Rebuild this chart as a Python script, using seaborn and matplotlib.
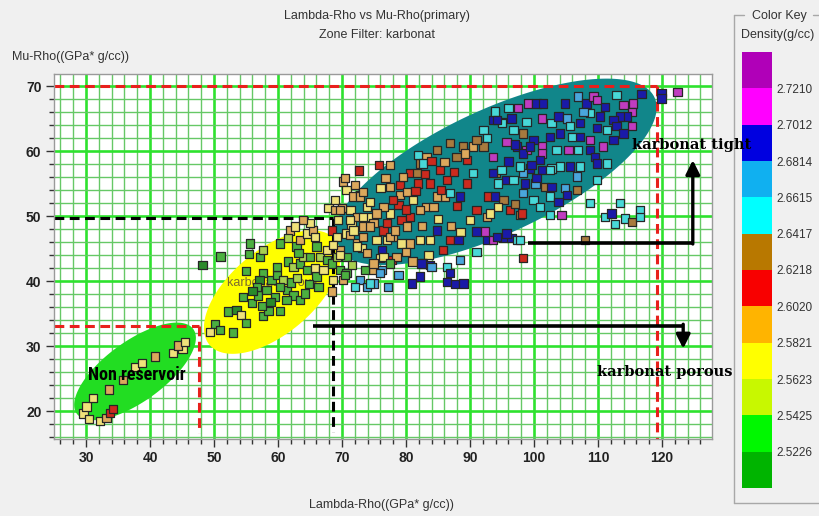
import numpy as np
import pandas as pd
import matplotlib
matplotlib.use("Agg")
import matplotlib.pyplot as plt
import seaborn as sns
from matplotlib import font_manager
from matplotlib.colors import ListedColormap, BoundaryNorm
from matplotlib.cm import ScalarMappable
from matplotlib.patches import Polygon
from matplotlib.lines import Line2D

sns.set_theme(style="white")
plt.rcParams["font.family"] = ["Liberation Sans", "DejaVu Sans"]

# ---------------- data ----------------
# Non reservoir cluster
nonres_x = [29.6, 30.5, 30.1, 31.1, 32.2, 33.2, 33.75, 34.2, 33.6, 35.8, 37.7, 38.7, 40.8, 43.6, 45.1, 44.4, 45.5]
nonres_y = [19.6, 18.8, 20.7, 22.0, 18.5, 18.9, 19.7, 20.3, 23.3, 24.8, 26.8, 27.4, 28.4, 28.9, 29.5, 30.1, 30.6]
nonres_d = [2.572, 2.572, 2.572, 2.572, 2.572, 2.592, 2.612, 2.612, 2.592, 2.592, 2.572, 2.572, 2.592, 2.572, 2.572, 2.592, 2.572]

# Porous cluster (yellow ellipse)
porous_x = [48.2, 51.0, 55.6, 55.5, 57.2, 57.7, 60.3, 55.0, 52.2, 53.5, 54.2, 55.0, 53.0, 50.2, 50.9, 49.4, 57.7, 58.5, 60.3,
            55.9, 56.9, 58.2, 59.0, 59.8, 60.8, 61.4, 62.4, 63.4, 64.2, 61.3, 61.6, 62.4, 63.4, 64.5, 63.9, 65.0, 66.0, 65.8,
            62.9, 63.4, 64.5, 65.5, 61.9, 61.6, 63.2, 59.8, 60.3, 57.7, 57.1, 56.7, 66.6, 67.6, 67.1, 68.4, 69.2, 69.7, 70.7,
            68.6, 70.2, 68.4, 66.3, 69.7, 70.7, 67.6, 66.0, 65.8, 65.0, 63.9, 62.7, 54.5, 56.0, 57.5, 59.5, 58.8, 62.0, 63.0, 64.8]
porous_y = [42.5, 43.8, 45.8, 44.2, 43.7, 44.8, 45.8, 41.5, 35.3, 35.5, 34.8, 33.5, 32.1, 33.4, 32.5, 32.2, 34.6, 35.4, 35.4,
            36.6, 37.8, 38.6, 40.2, 40.9, 40.2, 38.6, 37.8, 37.1, 38.1, 37.1, 43.0, 42.2, 42.7, 41.7, 43.7, 43.7, 40.7, 42.0,
            45.3, 46.3, 47.3, 47.8, 47.8, 46.6, 44.3, 42.2, 39.1, 41.2, 40.2, 39.1, 43.7, 43.2, 41.7, 42.7, 43.7, 41.7, 41.2,
            40.2, 40.2, 38.4, 39.1, 44.8, 43.7, 44.8, 45.3, 46.8, 48.9, 49.4, 48.4, 37.5, 38.5, 36.2, 37.5, 36.8, 39.8, 40.5, 39.5]
porous_d = [2.512, 2.532, 2.532, 2.532, 2.532, 2.552, 2.532, 2.532, 2.532, 2.512, 2.572, 2.532, 2.532, 2.532, 2.532, 2.572, 2.532, 2.532, 2.532,
            2.532, 2.532, 2.532, 2.532, 2.532, 2.552, 2.532, 2.532, 2.532, 2.532, 2.532, 2.532, 2.552, 2.532, 2.532, 2.552, 2.532, 2.532, 2.572,
            2.532, 2.592, 2.572, 2.592, 2.592, 2.552, 2.532, 2.532, 2.532, 2.532, 2.512, 2.532, 2.552, 2.532, 2.572, 2.532, 2.552, 2.532, 2.532,
            2.572, 2.592, 2.592, 2.532, 2.592, 2.532, 2.572, 2.532, 2.572, 2.572, 2.592, 2.572, 2.532, 2.512, 2.532, 2.532, 2.512, 2.532, 2.552, 2.532]

# Transition cluster (around the black dashed cut-off)
mid_x = [68.4, 69.2, 67.9, 68.9, 70.2, 70.7, 71.8, 72.8, 73.9, 71.3, 72.3, 73.3, 71.5, 74.4, 74.9, 76.2, 72.3, 70.7, 77.0, 78.0,
         77.8, 75.9, 74.9, 72.8, 73.9, 74.9, 72.0, 77.2, 76.2, 70.5, 72.0, 68.9, 70.0, 69.4, 71.25, 73.1, 69.7, 68.6, 71.6, 73.6,
         70.5, 69.7, 71.25, 71.8, 73.3, 75.4, 76.5, 77.5, 79.3, 80.6, 78.5, 76.5, 73.9, 72.3, 74.9, 77.5, 75.9, 74.4]
mid_y = [47.8, 46.8, 51.2, 50.9, 55.3, 54.0, 53.0, 53.2, 51.4, 50.9, 49.9, 48.4, 48.6, 49.9, 48.9, 44.8, 45.8, 47.3, 46.3, 46.8,
         43.2, 43.5, 41.7, 40.2, 39.1, 39.6, 39.1, 39.1, 41.7, 55.8, 54.8, 52.5, 51.2, 49.4, 47.1, 45.1, 44.0, 45.5, 42.5, 41.7,
         40.9, 50.9, 49.4, 47.8, 46.8, 46.3, 47.8, 46.8, 45.8, 45.8, 43.7, 43.7, 44.3, 45.3, 42.7, 42.7, 41.2, 39.6]
mid_d = [2.612, 2.572, 2.572, 2.592, 2.592, 2.572, 2.592, 2.572, 2.572, 2.572, 2.592, 2.592, 2.572, 2.572, 2.592, 2.691, 2.592, 2.572, 2.572, 2.592,
         2.612, 2.572, 2.592, 2.671, 2.671, 2.671, 2.651, 2.671, 2.671, 2.592, 2.592, 2.572, 2.592, 2.572, 2.592, 2.572, 2.572, 2.572, 2.552, 2.532,
         2.532, 2.592, 2.572, 2.572, 2.592, 2.572, 2.612, 2.592, 2.572, 2.592, 2.592, 2.572, 2.592, 2.572, 2.592, 2.532, 2.671, 2.651]

# Tight cluster, lower part (reds / tans / browns)
tight1_x = [75.8, 72.7, 72.8, 73.3, 74.4, 76.0, 77.5, 77.5, 79.1, 79.1, 80.1, 78.8, 79.3, 80.6, 81.7, 81.9, 82.2, 83.75, 83.2, 84.8,
            85.3, 86.4, 86.1, 84.8, 83.2, 82.2, 81.1, 84.3, 80.6, 77.5, 76.5, 75.4, 73.3, 74.4, 77.0, 78.3, 80.1, 82.2, 83.75, 86.9,
            90.0, 91.0, 92.6, 89.5, 90.5, 89.5, 87.9, 86.9, 88.95, 90.5, 81.9, 82.7, 86.9, 88.4, 92.8, 95.7, 94.1, 96.25, 97.8, 92.6,
            93.6, 95.2, 96.5, 97.3, 78.0, 80.0, 81.5, 83.0, 85.5, 87.5, 88.0, 79.5, 76.8, 84.0, 86.0, 82.5, 85.0, 87.0, 88.5, 80.0,
            83.5, 81.0, 85.8]
tight1_y = [57.8, 57.0, 53.0, 53.7, 52.2, 54.3, 54.5, 57.8, 54.8, 53.2, 53.7, 51.7, 49.4, 56.6, 56.6, 55.0, 58.1, 55.0, 59.1, 60.2,
            57.1, 55.5, 53.0, 53.0, 51.4, 50.9, 52.5, 51.4, 49.9, 50.4, 51.4, 50.4, 49.9, 48.4, 48.9, 47.8, 48.4, 46.3, 46.3, 46.3,
            49.4, 50.9, 49.9, 55.0, 56.6, 58.6, 59.1, 61.2, 60.7, 60.7, 59.4, 58.1, 53.5, 53.0, 53.0, 55.5, 56.6, 50.9, 50.2, 46.3,
            46.3, 46.6, 46.6, 46.3, 52.5, 51.0, 53.8, 56.5, 54.0, 56.8, 51.5, 56.0, 55.8, 58.5, 58.3, 48.5, 49.5, 48.5, 47.5, 44.5,
            44.0, 43.0, 44.8]
tight1_d = [2.612, 2.612, 2.592, 2.592, 2.572, 2.572, 2.592, 2.592, 2.612, 2.592, 2.592, 2.612, 2.612, 2.612, 2.632, 2.612, 2.632, 2.612, 2.592, 2.632,
            2.612, 2.612, 2.592, 2.592, 2.592, 2.592, 2.572, 2.592, 2.612, 2.572, 2.592, 2.592, 2.572, 2.592, 2.612, 2.592, 2.592, 2.572, 2.572, 2.612,
            2.572, 2.612, 2.592, 2.612, 2.651, 2.612, 2.632, 2.632, 2.632, 2.592, 2.651, 2.651, 2.651, 2.691, 2.612, 2.691, 2.632, 2.612, 2.632, 2.691,
            2.711, 2.691, 2.691, 2.651, 2.612, 2.612, 2.612, 2.612, 2.612, 2.612, 2.612, 2.592, 2.592, 2.612, 2.592, 2.592, 2.572, 2.592, 2.572, 2.592,
            2.572, 2.592, 2.612]

# Blue / cyan points below the tight ellipse
low_x = [82.7, 83.75, 86.4, 87.7, 89.0, 80.9, 78.8, 82.2, 86.4, 84.8, 88.2, 91.0, 98.3, 94.2, 95.7, 92.3, 97.8, 91.0, 88.4, 84.0, 82.4, 86.9]
low_y = [42.7, 42.5, 39.9, 39.5, 39.6, 39.6, 40.9, 40.7, 42.2, 47.8, 46.3, 47.6, 43.5, 46.8, 47.3, 47.6, 46.3, 44.5, 43.2, 42.2, 42.7, 41.2]
low_d = [2.691, 2.691, 2.691, 2.691, 2.691, 2.691, 2.671, 2.691, 2.651, 2.691, 2.691, 2.691, 2.612, 2.691, 2.691, 2.711, 2.651, 2.651, 2.671, 2.671, 2.691, 2.691]

# Tight cluster, upper part (blues / cyans / magentas)
tight2_x = [99.1, 100.4, 101.4, 97.5, 96.0, 93.9, 95.0, 93.6, 96.5, 98.8, 101.2, 102.75, 103.8, 105.1, 104.8, 106.9, 108.2, 109.3, 109.8, 111.1,
            112.9, 113.95, 115.5, 116.8, 115.3, 114.5, 113.4, 112.4, 110.3, 108.75, 107.7, 107.2, 109.8, 111.4, 112.9, 115.3, 113.95, 112.4, 110.8, 108.75,
            108.75, 107.2, 105.9, 105.6, 104.1, 102.5, 101.2, 99.9, 98.8, 97.3, 95.7, 96.8, 98.3, 103.5, 105.4, 106.9, 109.5, 109.8, 111.4, 107.2,
            105.6, 104.1, 102.75, 101.2, 99.4, 98.3, 100.2, 101.7, 102.75, 104.8, 106.7, 109.8, 106.7, 98.3, 99.9, 102.5, 105.1, 103.8, 100.9, 102.5,
            104.3, 98.1, 97.0, 95.2, 93.9, 94.4, 93.1, 92.1, 93.9, 95.0, 94.2, 92.6, 92.1, 91.0, 89.2, 93.6, 98.3, 97.0, 99.4, 101.2,
            100.9, 99.6, 97.8, 96.0, 94.9, 93.6, 94.4, 96.8, 98.6, 100.4, 102.5]
tight2_y = [67.3, 67.3, 67.3, 66.6, 66.6, 65.8, 64.5, 64.8, 65.0, 64.5, 65.0, 64.3, 65.3, 65.0, 67.3, 68.4, 67.3, 68.4, 67.8, 66.8,
            68.6, 67.1, 67.3, 68.8, 66.0, 65.3, 65.3, 64.8, 65.3, 65.8, 66.0, 64.3, 63.5, 63.2, 63.8, 63.8, 62.7, 61.7, 60.7, 61.7,
            60.2, 62.2, 62.2, 63.8, 62.7, 62.2, 60.7, 61.7, 60.2, 60.7, 61.4, 63.2, 62.7, 60.2, 60.2, 60.2, 59.1, 58.1, 58.1, 57.6,
            57.6, 57.6, 57.3, 57.1, 57.3, 56.6, 55.0, 54.5, 54.5, 54.3, 54.0, 55.5, 56.1, 53.5, 52.5, 53.0, 53.2, 52.2, 51.4, 50.2,
            50.2, 50.4, 51.9, 52.5, 53.0, 51.4, 50.4, 63.2, 66.1, 64.3, 64.8, 62.0, 60.7, 61.7, 59.6, 59.1, 59.6, 61.0, 60.7, 59.6,
            58.6, 57.8, 57.6, 58.4, 57.1, 56.6, 55.0, 55.5, 55.0, 55.8, 57.1]
tight2_d = [2.711, 2.691, 2.691, 2.711, 2.651, 2.651, 2.651, 2.691, 2.691, 2.651, 2.711, 2.651, 2.691, 2.671, 2.691, 2.671, 2.691, 2.711, 2.711, 2.691,
            2.651, 2.711, 2.711, 2.691, 2.711, 2.691, 2.691, 2.691, 2.691, 2.651, 2.671, 2.691, 2.691, 2.651, 2.691, 2.711, 2.691, 2.691, 2.711, 2.711,
            2.691, 2.691, 2.651, 2.651, 2.691, 2.691, 2.711, 2.691, 2.711, 2.691, 2.711, 2.651, 2.632, 2.651, 2.711, 2.651, 2.691, 2.691, 2.651, 2.651,
            2.691, 2.651, 2.651, 2.691, 2.691, 2.671, 2.671, 2.632, 2.691, 2.671, 2.632, 2.651, 2.671, 2.671, 2.651, 2.651, 2.691, 2.691, 2.651, 2.651,
            2.711, 2.612, 2.632, 2.632, 2.691, 2.572, 2.572, 2.651, 2.651, 2.651, 2.691, 2.651, 2.632, 2.632, 2.592, 2.711, 2.691, 2.691, 2.691, 2.711,
            2.691, 2.691, 2.651, 2.691, 2.651, 2.691, 2.651, 2.651, 2.691, 2.691, 2.651]

# Outliers on the right
right_x = [108.75, 111.1, 112.1, 112.65, 113.4, 114.2, 115.3, 116.6, 116.6, 119.9, 119.9, 122.4, 108.0]
right_y = [52.0, 49.9, 50.4, 48.8, 52.0, 49.6, 49.1, 50.9, 49.9, 68.9, 68.1, 69.1, 46.3]
right_d = [2.651, 2.651, 2.691, 2.651, 2.651, 2.651, 2.632, 2.651, 2.651, 2.691, 2.691, 2.711, 2.632]

# Color key
key_bounds = [2.5028, 2.5226, 2.5425, 2.5623, 2.5821, 2.6020, 2.6218, 2.6417, 2.6615, 2.6814, 2.7012, 2.7210, 2.7408]
key_labels = ["2.5226", "2.5425", "2.5623", "2.5821", "2.6020", "2.6218", "2.6417", "2.6615", "2.6814", "2.7012", "2.7210"]
key_colors = ["#00b400", "#00f800", "#c8f800", "#ffff00", "#ffb400", "#f80000",
              "#b87800", "#00ffff", "#10b0f0", "#0000e0", "#ff00ff", "#b000b8"]
marker_colors = ["#2a8a2a", "#4bb040", "#a8d050", "#f0e27a", "#dca85c", "#cc2a1e",
                 "#a87a3e", "#48d8d8", "#4aa6dc", "#1a1aa8", "#c03cc0", "#900090"]

x_ticks = [30, 40, 50, 60, 70, 80, 90, 100, 110, 120]
y_ticks = [20, 30, 40, 50, 60, 70]

# ---------------- figure ----------------
W, H = 819, 516
fig = plt.figure(figsize=(W / 100, H / 100), dpi=100, facecolor="#f0f0f0")
L, R, T, B = 54, 712, 74, 439
ax = fig.add_axes([L / W, 1 - B / H, (R - L) / W, (B - T) / H])
ax.set_zorder(3)
ax.set_facecolor("white")
x0, x1 = 25.0, 127.8
y0, y1 = 15.7, 71.85
ax.set_xlim(x0, x1)
ax.set_ylim(y0, y1)
sx = (R - L) / (x1 - x0)
sy = (B - T) / (y1 - y0)

ax.set_xticks(x_ticks)
ax.set_yticks(y_ticks)
ax.set_xticks(np.arange(26, 128, 2), minor=True)
ax.set_yticks(np.arange(16, 72, 2), minor=True)
ax.grid(which="minor", color="#66c866", lw=1.0, zorder=0)
ax.grid(which="major", color="#2ee22e", lw=1.9, zorder=0)
ax.set_axisbelow(True)
ax.tick_params(which="major", direction="out", length=6, width=1, color="#333",
               labelsize=10, labelcolor="#222", bottom=True, left=True, pad=3)
ax.tick_params(which="minor", direction="out", length=3.5, width=1, color="#333", bottom=True, left=True)
for lab in ax.get_xticklabels() + ax.get_yticklabels():
    lab.set_fontweight("bold")
for s in ax.spines.values():
    s.set_color("#9a9a9a")
    s.set_linewidth(1)


def ellipse(cx, cy, a, b, ang):
    t = np.linspace(0, 2 * np.pi, 240)
    th = np.deg2rad(ang)
    dx = a * np.cos(t) * np.cos(th) - b * np.sin(t) * np.sin(th)
    dy = a * np.cos(t) * np.sin(th) + b * np.sin(t) * np.cos(th)
    return np.column_stack([cx + dx / sx, cy + dy / sy])


ax.add_patch(Polygon(ellipse(93.9, 56.8, 176, 62, 25), closed=True, fc="#11868a", ec="none", zorder=1))
ax.add_patch(Polygon(ellipse(59.1, 38.3, 82, 42, 40), closed=True, fc="#ffff00", ec="none", zorder=1))
ax.add_patch(Polygon(ellipse(37.66, 26.1, 72, 30, 36), closed=True, fc="#22dd22", ec="none", zorder=1))

# dashed cut-off lines
red = "#e8201c"
ax.plot([x0, 119.2], [70.0, 70.0], color=red, lw=2.2, dashes=(3.2, 1.8), zorder=2)
ax.plot([119.2, 119.2], [70.0, y0], color=red, lw=2.2, dashes=(3.2, 1.8), zorder=2)
ax.plot([x0, 47.7], [33.1, 33.1], color=red, lw=2.2, dashes=(3.2, 1.8), zorder=2)
ax.plot([47.7, 47.7], [33.1, 16.6], color=red, lw=2.2, dashes=(3.2, 1.8), zorder=2)
ax.plot([x0, 68.6], [49.75, 49.75], color="black", lw=2.2, dashes=(3.2, 1.8), zorder=2)
ax.plot([68.6, 68.6], [49.75, 16.8], color="black", lw=2.2, dashes=(3.2, 1.8), zorder=2)

ax.text(52.0, 39.7, "karbonat porous", fontsize=9, color="#7a6a30", zorder=2, va="center", ha="left")

# scatter
all_x = nonres_x + porous_x + mid_x + tight1_x + low_x + tight2_x + right_x
all_y = nonres_y + porous_y + mid_y + tight1_y + low_y + tight2_y + right_y
all_d = nonres_d + porous_d + mid_d + tight1_d + low_d + tight2_d + right_d
df = pd.DataFrame({"lr": all_x, "mr": all_y, "rho": all_d})
df["bin"] = np.clip(np.digitize(df["rho"], key_bounds) - 1, 0, 11).astype(str)
pal = {str(i): c for i, c in enumerate(marker_colors)}
sns.scatterplot(data=df, x="lr", y="mr", hue="bin", palette=pal, marker="s", s=36,
                edgecolor="#262626", linewidth=0.9, legend=False, ax=ax, zorder=5)
ax.set_xlabel("")
ax.set_ylabel("")

# arrows
ax.plot([65.5, 123.3], [33.1, 33.1], color="black", lw=2.6, zorder=6, solid_capstyle="butt")
ax.annotate("", xy=(123.3, 29.6), xytext=(123.3, 33.35), zorder=6,
            arrowprops=dict(arrowstyle="-|>,head_length=0.7,head_width=0.35", color="black", lw=2.4, shrinkA=0, shrinkB=0))
ax.plot([99.0, 124.8], [45.9, 45.9], color="black", lw=2.6, zorder=6, solid_capstyle="butt")
ax.annotate("", xy=(124.8, 58.6), xytext=(124.8, 45.7), zorder=6,
            arrowprops=dict(arrowstyle="-|>,head_length=0.7,head_width=0.35", color="black", lw=2.4, shrinkA=0, shrinkB=0))

# text annotations
avail = {f.name for f in font_manager.fontManager.ttflist}
narrow = [f for f in ["Liberation Sans Narrow", "DejaVu Sans Condensed", "Roboto Condensed"] if f in avail]
nr_family = narrow[0] if narrow else "DejaVu Sans"
ax.text(30.3, 25.5, "Non reservoir", fontsize=13, family=nr_family, fontweight="bold",
        color="black", zorder=7, va="center", ha="left")
ax.text(115.3, 60.9, "karbonat tight", fontsize=10.5, family="DejaVu Serif", fontweight="bold",
        color="black", zorder=7, va="center", ha="left", clip_on=False)
ax.text(109.8, 26.0, "karbonat porous", fontsize=10.5, family="DejaVu Serif", fontweight="bold",
        color="black", zorder=7, va="center", ha="left", clip_on=False)

# titles and labels
fig.text(377 / W, 1 - 16 / H, "Lambda-Rho vs Mu-Rho(primary)", ha="center", va="center", fontsize=9, color="#333")
fig.text(377 / W, 1 - 35 / H, "Zone Filter: karbonat", ha="center", va="center", fontsize=9, color="#333")
fig.text(12 / W, 1 - 57 / H, "Mu-Rho((GPa* g/cc))", ha="left", va="center", fontsize=9, color="#333")
fig.text(381 / W, 1 - 505 / H, "Lambda-Rho((GPa* g/cc))", ha="center", va="center", fontsize=9, color="#333")

# color key
cax = fig.add_axes([742 / W, 1 - 488 / H, 30 / W, 436 / H])
cmap = ListedColormap(key_colors)
norm = BoundaryNorm(key_bounds, cmap.N)
cb = fig.colorbar(ScalarMappable(norm=norm, cmap=cmap), cax=cax, ticks=key_bounds[1:-1])
cb.ax.set_yticklabels(key_labels)
cb.outline.set_visible(False)
cax.minorticks_off()
cax.tick_params(which="both", length=0, labelsize=8.5, pad=3, labelcolor="#333")

gb = "#a8a8a8"
fig.add_artist(Line2D([734 / W, 734 / W], [1 - 15 / H, 1 - 503 / H], transform=fig.transFigure, color=gb, lw=1))
fig.add_artist(Line2D([734 / W, 819 / W], [1 - 503 / H, 1 - 503 / H], transform=fig.transFigure, color=gb, lw=1))
fig.add_artist(Line2D([734 / W, 744 / W], [1 - 15 / H, 1 - 15 / H], transform=fig.transFigure, color=gb, lw=1))
fig.add_artist(Line2D([813 / W, 819 / W], [1 - 15 / H, 1 - 15 / H], transform=fig.transFigure, color=gb, lw=1))
fig.text(779 / W, 1 - 16 / H, "Color Key", ha="center", va="center", fontsize=9, color="#333")
fig.text(778 / W, 1 - 35 / H, "Density(g/cc)", ha="center", va="center", fontsize=9, color="#333")

fig.savefig("out.png", dpi=100, facecolor=fig.get_facecolor())
